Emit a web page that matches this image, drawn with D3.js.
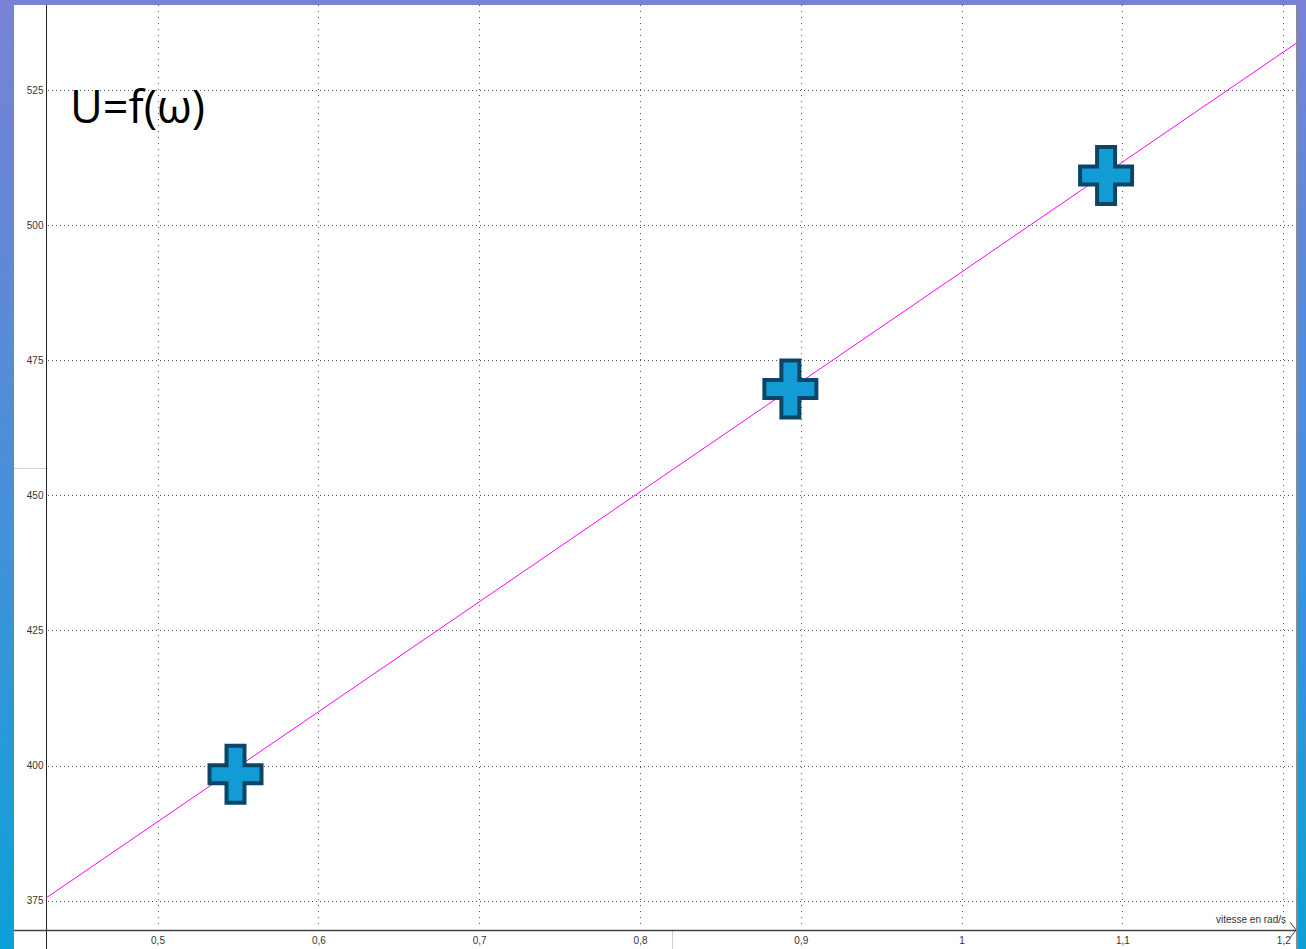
<!DOCTYPE html>
<html>
<head>
<meta charset="utf-8">
<script src="https://cdn.jsdelivr.net/npm/d3@7/dist/d3.min.js"></script>
<style>
  html, body { margin: 0; padding: 0; background: #fff; overflow: hidden; }
  svg { display: block; }
</style>
</head>
<body>
<svg id="chart" width="1306" height="949"></svg>
<script>
// ---- data ----
const title = "U=f(ω)";
const xLabel = "vitesse en rad/s";
const omega = [0.5485, 0.8935, 1.0898];      // rad/s
const tension = [398.4, 469.7, 509.2];        // U
const fitOmega = [0.4307, 1.2085];            // regression line ends
const fitU = [375.5, 533.75];
const xTicks = [0.5, 0.6, 0.7, 0.8, 0.9, 1.0, 1.1, 1.2];
const xTickLabels = ["0,5", "0,6", "0,7", "0,8", "0,9", "1", "1,1", "1,2"];
const yTicks = [375, 400, 425, 450, 475, 500, 525];

(function () {
// ---- layout ----
const W = 1306, H = 949;
const pL = 46, pR = 1297, pT = 5, pB = 930;

const svg = d3.select("#chart");
const defs = svg.append("defs");
const grad = defs.append("linearGradient").attr("id", "side").attr("x1", 0).attr("y1", 0).attr("x2", 0).attr("y2", 1);
grad.append("stop").attr("offset", "0%").attr("stop-color", "#7882d5");
grad.append("stop").attr("offset", "50%").attr("stop-color", "#4b8fd9");
grad.append("stop").attr("offset", "100%").attr("stop-color", "#0ca0d8");

// frame
svg.append("rect").attr("x", 0).attr("y", 0).attr("width", W).attr("height", H).attr("fill", "url(#side)");
svg.append("rect").attr("x", 14).attr("y", 5).attr("width", 1283).attr("height", H - 5).attr("fill", "#fff");
svg.append("rect").attr("x", 1296).attr("y", 5).attr("width", 2).attr("height", H - 5).attr("fill", "#8a8a8a");
// artifacts
svg.append("line").attr("x1", 14).attr("x2", pL).attr("y1", 468.5).attr("y2", 468.5).attr("stroke", "#cfcfcf");
svg.append("line").attr("x1", 672.5).attr("x2", 672.5).attr("y1", pB).attr("y2", H).attr("stroke", "#cfcfcf");

const x = d3.scaleLinear().domain([0.43067, 1.20851]).range([pL, pR]);
const y = d3.scaleLinear().domain([369.58, 540.73]).range([pB, pT]);

// grid
const g = svg.append("g");
g.selectAll("line.vg").data(xTicks).join("line")
  .attr("x1", d => Math.round(x(d)) + 0.5).attr("x2", d => Math.round(x(d)) + 0.5)
  .attr("y1", pT).attr("y2", pB - 3)
  .attr("stroke", "#555").attr("stroke-dasharray", "1,5");
g.selectAll("line.hg").data(yTicks).join("line")
  .attr("x1", pL + 2).attr("x2", pR - 1)
  .attr("y1", d => Math.round(y(d)) + 0.5).attr("y2", d => Math.round(y(d)) + 0.5)
  .attr("stroke", "#555").attr("stroke-dasharray", "1,3");

// axes
const yAxis = d3.axisLeft(y).tickValues(yTicks).tickSize(0).tickPadding(3).tickFormat(d3.format("d"));
const ya = svg.append("g").attr("transform", `translate(${pL + 0.5},0)`).call(yAxis);
ya.select(".domain").remove();
ya.selectAll("text").attr("font-family", "Liberation Sans, Arial, sans-serif").attr("font-size", 10).attr("fill", "#333");
svg.append("line").attr("x1", pL + 0.5).attr("x2", pL + 0.5).attr("y1", pT).attr("y2", H).attr("stroke", "#222");

const xAxis = d3.axisBottom(x).tickValues(xTicks).tickSize(0).tickPadding(6).tickFormat((d, i) => xTickLabels[i]);
const xa = svg.append("g").attr("transform", `translate(0,${pB + 0.5})`).call(xAxis);
xa.select(".domain").remove();
xa.selectAll("text").attr("font-family", "Liberation Sans, Arial, sans-serif").attr("font-size", 10).attr("fill", "#333");
svg.append("line").attr("x1", 14).attr("x2", pR - 1).attr("y1", pB + 0.5).attr("y2", pB + 0.5).attr("stroke", "#444").attr("stroke-width", 1.5);
svg.append("path").attr("d", `M${pR - 7},${pB - 8} L${pR - 1},${pB} L${pR - 7},${pB + 8}`)
  .attr("fill", "none").attr("stroke", "#444");

svg.append("text").attr("x", pR - 11).attr("y", pB - 7).attr("text-anchor", "end")
  .attr("font-family", "Liberation Sans, Arial, sans-serif").attr("font-size", 10).attr("fill", "#333").text(xLabel);

// fit line
const fitData = fitOmega.map((d, i) => [d, fitU[i]]);
svg.append("path").datum(fitData)
  .attr("d", d3.line().x(d => x(d[0])).y(d => y(d[1])))
  .attr("fill", "none").attr("stroke", "#ff00ff").attr("stroke-width", 1);

// markers
const hx = 26, hy = 28.5, t = 9;
const plus = `M${-t},${-hy} H${t} V${-t} H${hx} V${t} H${t} V${hy} H${-t} V${t} H${-hx} V${-t} H${-t} Z`;
const pts = omega.map((d, i) => [d, tension[i]]);
svg.append("g").selectAll("path").data(pts).join("path")
  .attr("transform", d => `translate(${x(d[0])},${y(d[1])})`)
  .attr("d", plus)
  .attr("fill", "#139bd6").attr("stroke", "#0b4666").attr("stroke-width", 4).attr("stroke-linejoin", "miter");

// title
svg.append("text").attr("x", 70).attr("y", 123)
  .attr("font-family", "Open Sans, Noto Sans, sans-serif").attr("font-size", 45).attr("fill", "#000").text(title);
})();
</script>
</body>
</html>
